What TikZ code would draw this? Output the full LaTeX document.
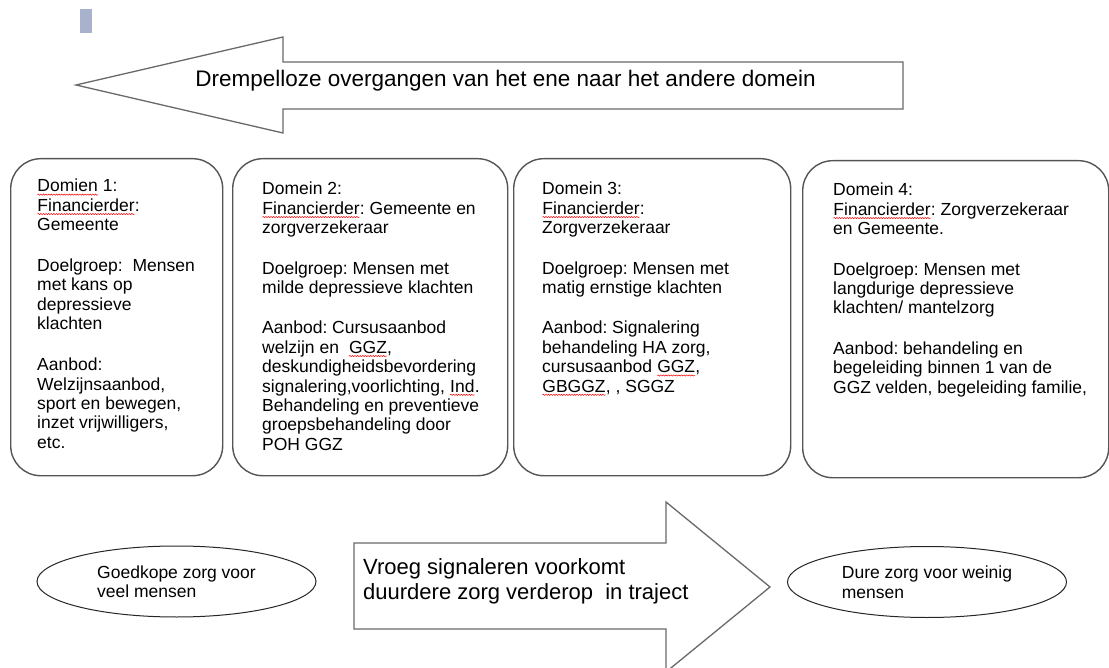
\documentclass[tikz,border=0pt]{standalone}
\usepackage{fontspec}
\setmainfont{Liberation Sans}
\usetikzlibrary{shapes.geometric,decorations.pathmorphing}
\frenchspacing

\definecolor{lijn}{RGB}{85,85,85}
\definecolor{pijlrand}{RGB}{105,105,105}
\definecolor{blokje}{RGB}{168,178,204}
% red spell-check wave under a word
\newcommand{\fout}[1]{\tikz[baseline=(w.base),x=1pt,y=1pt]{\node[inner sep=0pt,outer sep=0pt] (w) {#1};
  \draw[red,line width=0.5pt,decorate,decoration={snake,amplitude=0.6pt,segment length=2.6pt}] ([yshift=-2.6pt]w.south west) -- ([yshift=-2.6pt]w.south east);}}

\begin{document}
\begin{tikzpicture}[x=1pt,y=-1pt,
  domein/.style={draw=lijn,line width=1.4pt,rounded corners=30pt,anchor=north west},
  tekst/.style={anchor=north west,inner sep=0pt,align=left,font=\fontsize{17.5}{19.4}\selectfont},
  pijl/.style={draw=pijlrand,line width=1.3pt,fill=white},
  wolk/.style={draw=black!85,line width=1pt,ellipse,inner sep=0pt,minimum width=279pt,minimum height=71pt,align=left,font=\fontsize{17.5}{19.5}\selectfont}]
\useasboundingbox (0,0) rectangle (1109,668);
\fill[blokje] (80,9) rectangle (92,33);
% Arrow on top, pointing left
\draw[pijl] (76,85) -- (283,37) -- (283,62) -- (903,62) -- (903,109) -- (283,109) -- (283,133) -- cycle;
\node[anchor=base,inner sep=0pt,font=\fontsize{22.5}{27}\selectfont] (overgang) at (505.5,87) {Drempelloze overgangen van het ene naar het andere domein};
% The four domains
\node[domein,minimum width=212pt,minimum height=317pt] (d1) at (10,158) {};
\node[domein,minimum width=275pt,minimum height=317pt] (d2) at (232,158) {};
\node[domein,minimum width=277pt,minimum height=317pt] (d3) at (513,158) {};
\node[domein,minimum width=306pt,minimum height=317pt] (d4) at (802,160) {};
\node[tekst] (t1) at (37,179) {\fout{Domien} 1:\\\fout{Financierder}:\\Gemeente\\[21.5pt]
  Doelgroep:~ Mensen\\met kans op\\depressieve\\klachten\\[21.5pt]
  Aanbod:\\Welzijnsaanbod,\\sport en bewegen,\\inzet vrijwilligers,\\etc.};
\node[tekst] (t2) at (262,182) {Domein 2:\\\fout{Financierder}: Gemeente en\\zorgverzekeraar\\[21pt]
  Doelgroep: Mensen met\\milde depressieve klachten\\[21pt]
  Aanbod: Cursusaanbod\\welzijn en~ \fout{GGZ},\\deskundigheidsbevordering\\signalering,voorlichting, \fout{Ind}.\\Behandeling en preventieve\\groepsbehandeling door\\POH GGZ};
\node[tekst] (t3) at (542,182) {Domein 3:\\\fout{Financierder}:\\Zorgverzekeraar\\[21pt]
  Doelgroep: Mensen met\\matig ernstige klachten\\[21pt]
  Aanbod: Signalering\\behandeling HA zorg,\\cursusaanbod \fout{GGZ},\\\fout{GBGGZ}, , SGGZ};
\node[tekst] (t4) at (833,183) {Domein 4:\\\fout{Financierder}: Zorgverzekeraar\\en Gemeente.\\[21pt]
  Doelgroep: Mensen met\\langdurige depressieve\\klachten/ mantelzorg\\[21pt]
  Aanbod: behandeling en\\begeleiding binnen 1 van de\\GGZ velden, begeleiding familie,};
% Arrow at the bottom, pointing right
\draw[pijl] (354,543) -- (666,543) -- (666,502) -- (770,587) -- (666,672) -- (666,629) -- (354,629) -- cycle;
\node[anchor=north west,inner sep=0pt,align=left,font=\fontsize{22}{25.5}\selectfont] (vroeg) at (363,558) {Vroeg signaleren voorkomt\\duurdere zorg verderop~ in traject};
\node[wolk] (goedkoop) at (176.5,581.5) {Goedkope zorg voor\\veel mensen};
\node[wolk] (duur) at (927,582) {Dure zorg voor weinig\\mensen};
\end{tikzpicture}
\end{document}
